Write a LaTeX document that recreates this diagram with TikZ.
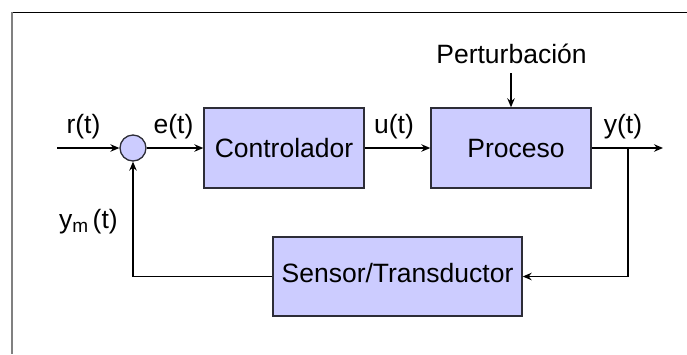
\documentclass[tikz,border=0pt]{standalone}
\usepackage{fontspec}
\setmainfont{Liberation Sans}
\usetikzlibrary{arrows.meta}
\definecolor{blockfill}{RGB}{204,204,255}
\definecolor{blockline}{RGB}{45,45,55}
\definecolor{framegray}{RGB}{128,128,128}

\begin{document}
\begin{tikzpicture}[x=1pt,y=-1pt,
  font=\fontsize{26.5}{30}\selectfont,
  block/.style={draw=blockline, fill=blockfill, line width=1.4pt, inner sep=0pt,
    minimum width=160pt, minimum height=80pt, text height=19pt, text depth=0pt},
  sumpt/.style={circle, draw=blockline, fill=blockfill, line width=1.3pt,
    minimum size=26pt, inner sep=0pt},
  sig/.style={line width=1.3pt, -{Stealth[length=9pt,width=7.5pt,inset=3pt]}},
  lbl/.style={anchor=base, inner sep=0pt}]

\useasboundingbox (0,0) rectangle (687,354);

% frame edges
\draw[black, line width=1.5pt] (12,12.5) -- (687,12.5);
\draw[framegray, line width=2.5pt] (12,12) -- (12,354);

% blocks
\node[sumpt] (sum) at (133,148) {};
\node[block] (ctrl) at (284,148) {Controlador};
\node[block] (proc) at (511,148) {\hspace*{10pt}Proceso};
\node[block, minimum width=249pt, minimum height=79pt, text depth=8pt] (sens) at (397.5,276.5) {Sensor/Transductor};

% free ends of the signal lines
\coordinate (rin) at (57,148);
\coordinate (yout) at (663,148);
\coordinate (br) at (628,148);
\coordinate (dist) at (511,73);

% signals
\draw[sig] (rin) -- (sum);
\draw[sig] (sum) -- (ctrl);
\draw[sig] (ctrl) -- (proc);
\draw[sig] (proc) -- (yout);
\draw[sig] (dist) -- (proc);
\draw[sig] (br) |- (sens);
\draw[sig] (sens) -| (sum);

% signal names
\node[lbl] (rlab) at (83.5,133) {r(t)};
\node[lbl] (elab) at (173.5,133) {e(t)};
\node[lbl] (ulab) at (394,133) {u(t)};
\node[lbl] (ylab) at (623,133) {y(t)};
\node[lbl] (dlab) at (511.5,63) {Perturbación};
\node[lbl] (ymlab) at (88.5,228) {y\raisebox{-0.3ex}{\fontsize{19}{20}\selectfont m}\,(t)};
\end{tikzpicture}
\end{document}
